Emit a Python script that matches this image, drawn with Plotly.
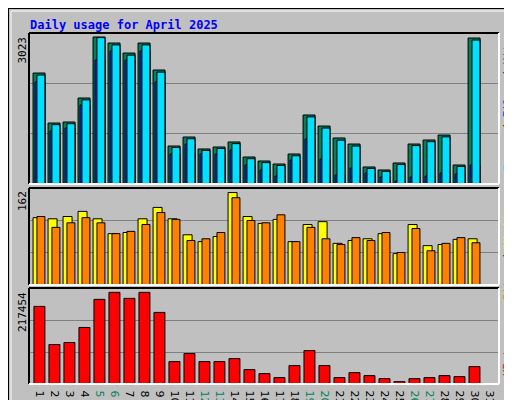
import plotly.graph_objects as go

days = list(range(1, 32))
hits = [2282, 1254, 1275, 1768, 3023, 2899, 2693, 2899, 2344, 781, 966, 720, 761, 864, 555,
        473, 411, 617, 1419, 1192, 946, 822, 350, 288, 432, 822, 905, 1007, 391, 3002, 0]
pages = [2240, 1220, 1240, 1730, 3010, 2860, 2650, 2860, 2300, 750, 930, 690, 730, 830, 520,
         440, 380, 580, 1380, 1150, 900, 780, 320, 260, 400, 790, 870, 970, 360, 2960, 0]
files = [2097, 1090, 1151, 1624, 2549, 2734, 2549, 2734, 2097, 617, 822, 617, 617, 699, 391,
         288, 164, 493, 925, 514, 185, 329, 226, 144, 62, 144, 164, 226, 205, 391, 0]
visits = [118, 116, 120, 129, 116, 90, 92, 116, 136, 116, 88, 76, 85, 162, 120,
          108, 115, 76, 106, 111, 73, 78, 81, 90, 55, 106, 69, 71, 80, 81, 0]
sites = [120, 101, 109, 118, 109, 90, 94, 106, 127, 115, 78, 81, 92, 153, 113,
         109, 123, 76, 101, 81, 71, 83, 78, 92, 57, 99, 60, 73, 83, 74, 0]
kbytes = [184115, 93645, 98406, 134118, 200781, 217454, 203162, 217454, 169830, 53171, 72218,
          53171, 53171, 60314, 34125, 24602, 15078, 43648, 79360, 43648, 15078, 26982, 19840,
          12698, 5555, 12698, 15078, 19840, 17459, 41267, 0]
weekend = [5, 6, 12, 13, 19, 20, 26, 27]

GREEN, BLUE, CYAN = "#00805c", "#0040ff", "#00e0ff"
YELLOW, ORANGE, RED = "#ffff00", "#ff8000", "#ff0000"
BG = "#c0c0c0"

fig = go.Figure()
edge = dict(color="black", width=1)

def bars(y, color, off, w, ax):
    fig.add_trace(go.Bar(x=days, y=y, offset=off, width=w, marker=dict(color=color, line=edge),
                         xaxis="x", yaxis=ax, showlegend=False, hoverinfo="y"))

bars(hits, GREEN, -0.53, 0.8, "y")
bars(files, BLUE, -0.4, 0.67, "y")
bars(pages, CYAN, -0.27, 0.53, "y")
bars(visits, YELLOW, -0.53, 0.6, "y2")
bars(sites, ORANGE, -0.27, 0.53, "y2")
bars(kbytes, RED, -0.47, 0.73, "y3")

ticktext = [f"<span style='color:{GREEN}'>{d}</span>" if d in weekend else str(d) for d in days]

X0, X1 = 21 / 512, 491 / 512
r1, r2, r3 = 3105, 170, 227763
yax = dict(showticklabels=False, showline=False, zeroline=False, gridcolor="#808080", gridwidth=1)
fig.update_layout(
    width=512, height=400, margin=dict(l=0, r=0, t=0, b=0),
    paper_bgcolor=BG, plot_bgcolor=BG, barmode="overlay",
    font=dict(family="DejaVu Sans", size=11, color="black"),
    xaxis=dict(domain=[X0, X1], range=[0.2, 31.53], tickvals=days, ticktext=ticktext, showgrid=False,
               zeroline=False, ticks="", anchor="y3", tickfont=dict(size=11)),
    yaxis=dict(domain=[0.56, 0.9375], range=[0, r1], tickvals=[r1 / 3, 2 * r1 / 3], **yax),
    yaxis2=dict(domain=[0.3075, 0.55], range=[0, r2], tickvals=[r2 / 3, 2 * r2 / 3], **yax),
    yaxis3=dict(domain=[0.06, 0.3], range=[0, r3], tickvals=[r3 / 3, 2 * r3 / 3], **yax),
)

# panel frames: black top/left, white bottom/right
shapes = []
for y0, y1 in [(0.56, 0.9375), (0.3075, 0.55), (0.06, 0.3)]:
    shapes += [
        dict(type="line", xref="paper", yref="paper", x0=X0, x1=X1, y0=y1, y1=y1, line=dict(color="black", width=2)),
        dict(type="line", xref="paper", yref="paper", x0=X0, x1=X0, y0=y0, y1=y1, line=dict(color="black", width=2)),
        dict(type="line", xref="paper", yref="paper", x0=X0, x1=X1, y0=y0, y1=y0, line=dict(color="white", width=2)),
        dict(type="line", xref="paper", yref="paper", x0=X1, x1=X1, y0=y0, y1=y1, line=dict(color="white", width=2)),
    ]
# outer bevel
shapes += [
    dict(type="rect", xref="paper", yref="paper", x0=0, x1=1, y0=0, y1=1, line=dict(color="black", width=2)),
    dict(type="rect", xref="paper", yref="paper", x0=505 / 512, x1=510 / 512, y0=2 / 400, y1=1 - 2 / 400,
         fillcolor="#808080", line_width=0),
    dict(type="rect", xref="paper", yref="paper", x0=2 / 512, x1=510 / 512, y0=2 / 400, y1=7 / 400,
         fillcolor="#808080", line_width=0),
    dict(type="line", xref="paper", yref="paper", x0=3 / 512, x1=3 / 512, y0=7 / 400, y1=1 - 3 / 400,
         line=dict(color="white", width=1)),
    dict(type="line", xref="paper", yref="paper", x0=3 / 512, x1=505 / 512, y0=1 - 3 / 400, y1=1 - 3 / 400,
         line=dict(color="white", width=1)),
]
fig.update_layout(shapes=shapes)

mono = "DejaVu Sans Mono"
ann = [
    dict(text="<b>Daily usage for April 2025</b>", x=20 / 512, y=1 - 8 / 400, xanchor="left", yanchor="top",
         font=dict(family=mono, size=12, color="#0000ff")),
    dict(text="3023", x=14 / 512, y=1 - 27 / 400, textangle=-90, xanchor="center", yanchor="top"),
    dict(text="162", x=14 / 512, y=1 - 181 / 400, textangle=-90, xanchor="center", yanchor="top"),
    dict(text="217454", x=14 / 512, y=1 - 282 / 400, textangle=-90, xanchor="center", yanchor="top"),
    dict(text=f"<span style='color:{CYAN}'>Pages</span> / <span style='color:{BLUE}'>Files</span> / "
              f"<span style='color:{GREEN}'>Hits</span>",
         x=499 / 512, y=1 - 28 / 400, textangle=-90, xanchor="center", yanchor="top"),
    dict(text=f"<span style='color:{ORANGE}'>Sites</span> / <span style='color:{YELLOW}'>Visits</span>",
         x=499 / 512, y=1 - 198 / 400, textangle=-90, xanchor="center", yanchor="top"),
    dict(text=f"<span style='color:{RED}'>KBytes</span>",
         x=499 / 512, y=1 - 326 / 400, textangle=-90, xanchor="center", yanchor="top"),
]
for a in ann:
    a.setdefault("font", dict(family=mono, size=11, color="black"))
    a.update(xref="paper", yref="paper", showarrow=False)
fig.update_layout(annotations=ann)

fig.write_html("out.html")
